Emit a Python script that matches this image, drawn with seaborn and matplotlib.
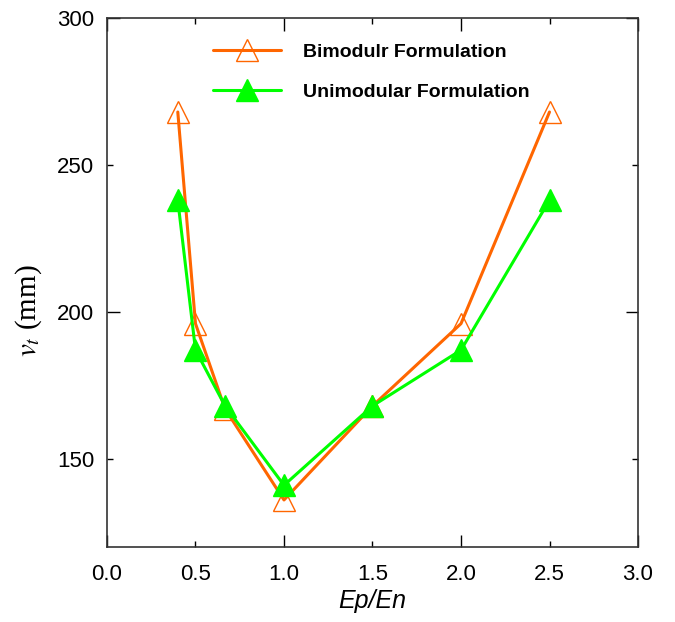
import matplotlib
matplotlib.use("Agg")
import matplotlib.pyplot as plt
import pandas as pd
import seaborn as sns

# Modulus ratio and vertical displacement for both formulations
ratio = [0.4, 0.5, 0.667, 1.0, 1.5, 2.0, 2.5]
bimodular = [268, 196, 167, 136, 168, 196, 268]
unimodular = [238, 187, 168, 141, 168, 187, 238]

series_names = ["Bimodulr Formulation", "Unimodular Formulation"]
x_ticks = [0.0, 0.5, 1.0, 1.5, 2.0, 2.5, 3.0]
y_ticks = [150, 200, 250, 300]

sns.set_theme(style="white")
plt.rcParams["font.family"] = ["Liberation Sans", "DejaVu Sans"]
plt.rcParams["mathtext.fontset"] = "stix"
plt.rcParams["text.color"] = "black"
plt.rcParams["axes.labelcolor"] = "black"

df = pd.DataFrame({
    "ratio": ratio * 2,
    "v": bimodular + unimodular,
    "series": [series_names[0]] * len(ratio) + [series_names[1]] * len(ratio),
})

fig = plt.figure(figsize=(6.75, 6.22), dpi=100)
ax = fig.add_axes([0.1585, 0.1206, 0.7867, 0.8505])

orange = "#ff6600"
green = "#00ff00"

sns.lineplot(data=df[df.series == series_names[0]], x="ratio", y="v", ax=ax,
             color=orange, lw=2.2, marker="^", markersize=16,
             markerfacecolor="none", markeredgecolor=orange, markeredgewidth=1.0,
             label=series_names[0], sort=False)
sns.lineplot(data=df[df.series == series_names[1]], x="ratio", y="v", ax=ax,
             color=green, lw=2.2, marker="^", markersize=16,
             markerfacecolor=green, markeredgecolor=green, markeredgewidth=1.0,
             label=series_names[1], sort=False)

ax.set_xlim(0, 3.0)
ax.set_ylim(120, 300)
ax.set_xticks(x_ticks)
ax.set_xticklabels([f"{t:.1f}" for t in x_ticks])
ax.set_yticks(y_ticks)
ax.set_yticklabels([str(t) for t in y_ticks])

ax.tick_params(axis="both", which="both", direction="in",
               bottom=True, left=True, top=True, right=True,
               labelsize=16, colors="black", width=1.0, length=9)
ax.tick_params(axis="x", which="major", pad=12)
ax.tick_params(axis="y", which="major", pad=9)
# long ticks at whole steps, short ones at the half steps
for tk, val in zip(ax.xaxis.get_major_ticks(), x_ticks):
    if abs((val * 2) % 2 - 1) < 1e-6:
        tk.tick1line.set_markersize(4.5)
        tk.tick2line.set_markersize(4.5)
for tk, val in zip(ax.yaxis.get_major_ticks(), y_ticks):
    if val % 100 == 50:
        tk.tick1line.set_markersize(4.5)
        tk.tick2line.set_markersize(4.5)

for s in ax.spines.values():
    s.set_color("#333333")
    s.set_linewidth(1.2)

ax.set_xlabel("Ep/En", fontsize=18, style="italic", labelpad=3)
ax.set_ylabel(r"$v_t$ (mm)", fontsize=21, family="Liberation Serif")
ax.yaxis.set_label_coords(-0.118, 0.446)

ax.legend(loc="upper left", bbox_to_anchor=(0.2, 0.952), frameon=False,
          prop={"weight": "bold", "size": 14}, handlelength=3.5,
          handletextpad=1.1, labelspacing=1.15, borderpad=0, borderaxespad=0)

fig.savefig("out.png", dpi=100)
